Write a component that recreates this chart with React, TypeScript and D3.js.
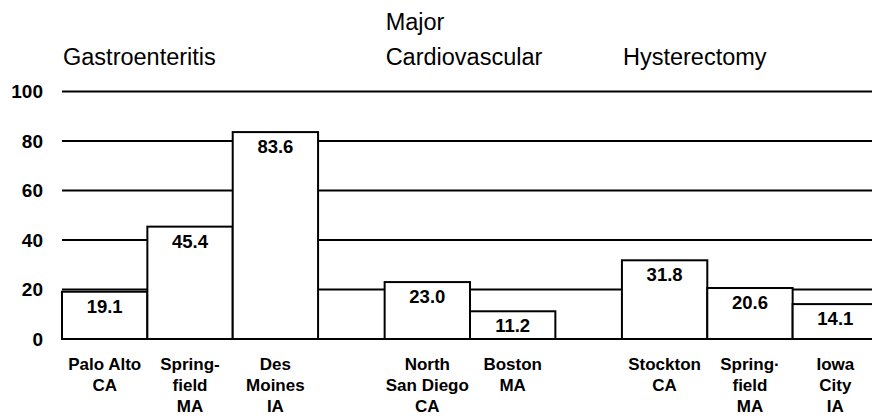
import React from "react";
import * as d3 from "d3";

const groupTitles: string[][] = [["Gastroenteritis"], ["Major", "Cardiovascular"], ["Hysterectomy"]];
const siteLabels: string[][] = [
  ["Palo Alto", "CA"],
  ["Spring-", "field", "MA"],
  ["Des", "Moines", "IA"],
  ["North", "San Diego", "CA"],
  ["Boston", "MA"],
  ["Stockton", "CA"],
  ["Spring·", "field", "MA"],
  ["Iowa", "City", "IA"],
];
const siteGroup: number[] = [0, 0, 0, 1, 1, 2, 2, 2];
const values: number[] = [19.1, 45.4, 83.6, 23.0, 11.2, 31.8, 20.6, 14.1];
const yTicks: number[] = [0, 20, 40, 60, 80, 100];

const W = 872;
const H = 418;
const GAP = 0.78;
const FONT = "'Liberation Sans', Arial, Helvetica, sans-serif";

export default function App() {
  const pos = values.map((_, i) => i + siteGroup[i] * GAP);
  const x = d3.scaleLinear().domain([0, values.length + 2 * GAP]).range([62, 878]);
  const y = d3.scaleLinear().domain([0, 100]).range([339, 91.5]);
  const groupStart = groupTitles.map((_, g) => pos[siteGroup.indexOf(g)]);

  return (
    <svg
      width={W}
      height={H}
      style={{ position: "absolute", left: 0, top: 0, background: "#fff" }}
      fontFamily={FONT}
    >
      <rect x={0} y={0} width={W} height={H} fill="#fff" />
      {groupTitles.map((lines, g) => (
        <text key={"t" + g} x={x(groupStart[g]) + 1} y={65} fontSize={23.5} fill="#000">
          {lines.map((ln, k) => (
            <tspan key={k} x={x(groupStart[g]) + 1} y={65 - (lines.length - 1 - k) * 35}>
              {ln}
            </tspan>
          ))}
        </text>
      ))}
      {yTicks.map((t) => (
        <g key={"y" + t}>
          <line x1={62} x2={W} y1={y(t)} y2={y(t)} stroke="#000" strokeWidth={2} />
          <text
            x={43}
            y={y(t)}
            dy="0.36em"
            textAnchor="end"
            fontSize={19}
            fontWeight="bold"
            fill="#000"
          >
            {t}
          </text>
        </g>
      ))}
      {values.map((v, i) => {
        const x0 = x(pos[i]);
        const x1 = x(pos[i] + 1);
        const cx = (x0 + x1) / 2;
        return (
          <g key={"b" + i}>
            <rect
              x={x0}
              y={y(v)}
              width={x1 - x0}
              height={y(0) - y(v)}
              fill="#fff"
              stroke="#000"
              strokeWidth={2}
            />
            <text
              x={cx}
              y={y(v) + 21}
              textAnchor="middle"
              fontSize={18.5}
              fontWeight="bold"
              fill="#000"
            >
              {v.toFixed(1)}
            </text>
            <text textAnchor="middle" fontSize={17} fontWeight="bold" fill="#000">
              {siteLabels[i].map((ln, k) => (
                <tspan key={k} x={cx} y={370 + k * 20.8}>
                  {ln}
                </tspan>
              ))}
            </text>
          </g>
        );
      })}
    </svg>
  );
}
